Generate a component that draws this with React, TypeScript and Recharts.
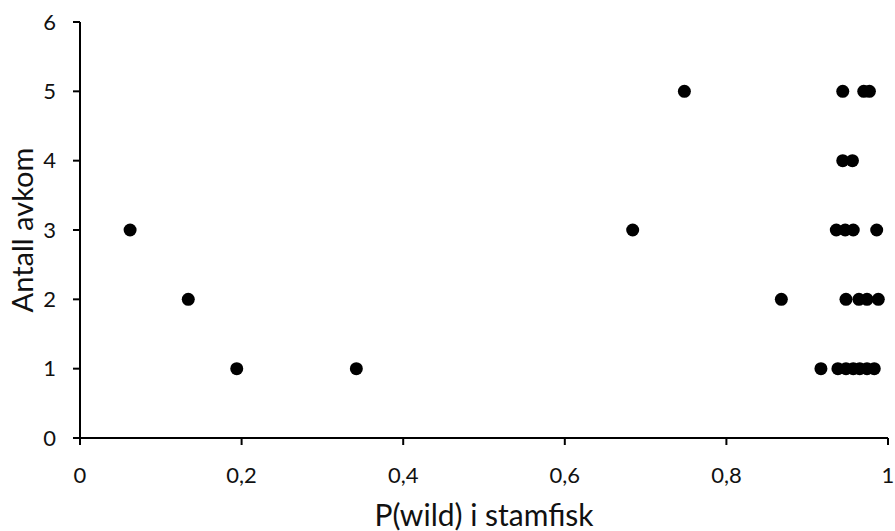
import React from 'react';
import { ScatterChart, Scatter, XAxis, YAxis } from 'recharts';

// P(wild) values and offspring counts
const pWild = [
  0.062, 0.134, 0.194, 0.342, 0.684, 0.748, 0.868,
  0.944, 0.970, 0.977,
  0.944, 0.956,
  0.936, 0.947, 0.957, 0.986,
  0.948, 0.964, 0.974, 0.988,
  0.917, 0.938, 0.948, 0.957, 0.965, 0.974, 0.983,
];
const antallAvkom = [
  3, 2, 1, 1, 3, 5, 2,
  5, 5, 5,
  4, 4,
  3, 3, 3, 3,
  2, 2, 2, 2,
  1, 1, 1, 1, 1, 1, 1,
];
const xTicks = [0, 0.2, 0.4, 0.6, 0.8, 1];
const yTicks = [0, 1, 2, 3, 4, 5, 6];

const points = pWild.map((x, i) => ({ x, y: antallAvkom[i] }));

const font = 'Lato, "Open Sans", sans-serif';

const Dot = (props: any) => {
  const { cx, cy } = props;
  return <circle cx={cx} cy={cy} r={6.5} fill="#000" />;
};

const App = () => {
  return (
    <div style={{ position: 'absolute', left: 0, top: 0, background: '#fff' }}>
      <ScatterChart
        width={895}
        height={531}
        margin={{ top: 22, right: 7, bottom: 0, left: 0 }}
        style={{ fontFamily: font }}
      >
        <XAxis
          type="number"
          dataKey="x"
          domain={[0, 1]}
          ticks={xTicks}
          interval={0}
          height={93}
          tickSize={7}
          tickMargin={22}
          tickFormatter={(v: number) => String(v).replace('.', ',')}
          tick={{ fontSize: 22, fill: '#111' }}
          axisLine={{ stroke: '#000', strokeWidth: 2 }}
          tickLine={{ stroke: '#000', strokeWidth: 2 }}
          label={{ value: 'P(wild) i stamfisk', position: 'insideBottom', offset: 5, fontSize: 30, fill: '#111' }}
        />
        <YAxis
          type="number"
          dataKey="y"
          domain={[0, 6]}
          ticks={yTicks}
          interval={0}
          width={80}
          tickSize={7}
          tickMargin={17}
          tick={{ fontSize: 22, fill: '#111' }}
          axisLine={{ stroke: '#000', strokeWidth: 2 }}
          tickLine={{ stroke: '#000', strokeWidth: 2 }}
          label={{ value: 'Antall avkom', angle: -90, position: 'insideLeft', offset: 23, fontSize: 29, fill: '#111', style: { textAnchor: 'middle' } }}
        />
        <Scatter data={points} shape={<Dot />} isAnimationActive={false} />
      </ScatterChart>
    </div>
  );
};

export default App;
